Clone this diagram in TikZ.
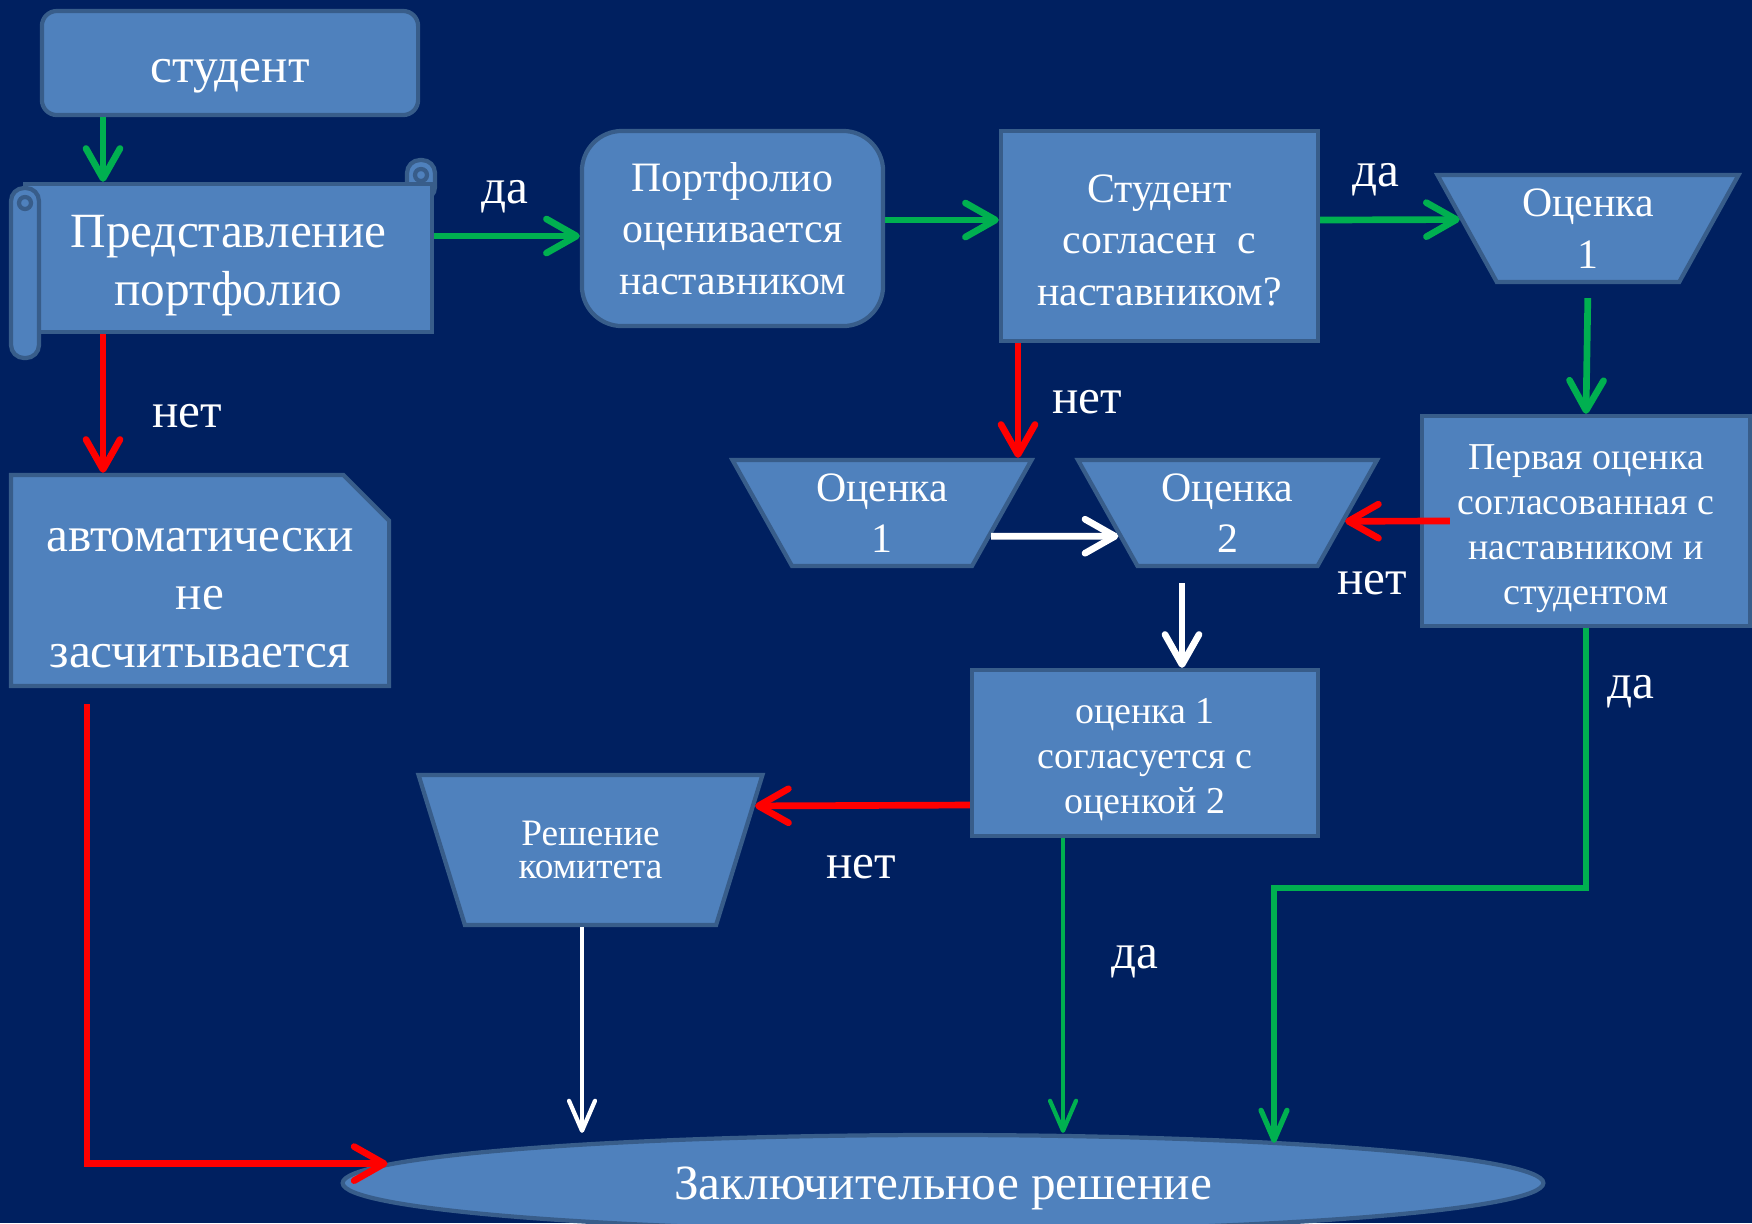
\documentclass[tikz,border=0pt]{standalone}
\usepackage{fontspec}
\setmainfont{Liberation Serif}
\usetikzlibrary{arrows.meta,shapes.geometric,shapes.misc}
\definecolor{bgblue}{HTML}{002060}
\definecolor{boxblue}{HTML}{4F81BD}
\definecolor{edgeblue}{HTML}{385D8A}
\definecolor{yesgreen}{HTML}{00B050}
\definecolor{nored}{HTML}{FF0000}
\begin{document}
\begin{tikzpicture}
        [x=0.01cm, y=-0.01cm,
        box/.style={draw=edgeblue, fill=boxblue, line width=1.2pt, text=white, align=center, inner sep=0pt},
        roundbox/.style={box, rectangle, rounded corners=#1},
        squarebox/.style={box, rectangle},
        tray/.style={box, trapezium, trapezium left angle=#1, trapezium right angle=#1, trapezium stretches=true},
        bigtext/.style={font=\fontsize{14}{16.5}\selectfont},
        midtext/.style={font=\fontsize{11.9}{14.6}\selectfont},
        smalltext/.style={font=\fontsize{10.8}{12.8}\selectfont},
        flow/.style={line width=1.9pt, -{Straight Barb[length=3mm,width=3.4mm,round]}},
        thinflow/.style={line width=1.2pt, -{Straight Barb[length=3mm,width=2.6mm,round]}},
        yes/.style={flow, yesgreen},
        no/.style={flow, nored},
        lab/.style={text=white, bigtext}]
        \useasboundingbox (0,0) rectangle (1752,1223);
        \fill[bgblue] (0,0) rectangle (1752,1223);
        \node[roundbox=0.15cm, minimum width=3.76cm, minimum height=1.04cm, bigtext] (stud) at (230,63) {\rule{0pt}{0.5cm}студент};
        \filldraw[draw=edgeblue, fill=boxblue, line width=1.2pt, rounded corners=0.13cm] (407,160) rectangle (435,200);
        \draw[edgeblue, line width=1.2pt] (421,175) circle[radius=0.06cm];
        \node[squarebox, minimum width=4.07cm, minimum height=1.48cm, bigtext] (pres) at (228.5,258) {\rule{0pt}{0.48cm}Представление\\портфолио};
        \filldraw[draw=edgeblue, fill=boxblue, line width=1.2pt, rounded corners=0.13cm] (11,188) rectangle (39,358);
        \draw[edgeblue, line width=1.2pt] (25,203) circle[radius=0.06cm];
        \node[roundbox=0.4cm, minimum width=3.01cm, minimum height=1.95cm, midtext] (port) at (732.5,228.5) {Портфолио\\оценивается\\наставником};
        \node[squarebox, minimum width=3.17cm, minimum height=2.1cm, midtext] (agree) at (1159.5,236) {\rule{0pt}{0.36cm}Студент\\согласен\ \ с\\наставником?};
        \node[tray=118.5, minimum width=3.02cm, minimum height=1.07cm, midtext] (top1) at (1588,228.5) {Оценка\\1};
        \node[squarebox, minimum width=3.28cm, minimum height=2.1cm, smalltext] (first) at (1586,521) {\rule{0pt}{0.4cm}Первая оценка\\согласованная с\\наставником и\\студентом};
        \node[tray=118.9, minimum width=3.0cm, minimum height=1.06cm, midtext] (mid1) at (882,513) {Оценка\\1};
        \node[tray=118.9, minimum width=3.0cm, minimum height=1.06cm, midtext] (mark2) at (1227.5,513) {Оценка\\2};
        \node[squarebox, minimum width=3.46cm, minimum height=1.66cm, smalltext] (check) at (1145,753) {\rule{0pt}{0.39cm}оценка 1\\согласуется с\\оценкой 2};
        \node[tray=114.4, minimum width=3.45cm, minimum height=1.5cm, font=\fontsize{10.6}{9.6}\selectfont] (comm) at (590.5,850) {Решение\\комитета};
        \node[box, chamfered rectangle, chamfered rectangle corners=north east, chamfered rectangle xsep=0.35cm, minimum width=3.78cm, minimum height=2.11cm, bigtext] (auto) at (200,580.5) {\rule{0pt}{0.59cm}автоматически\\не\\засчитывается};
        \node[box, ellipse, minimum width=12cm, minimum height=0.96cm, bigtext] (final) at (943,1183) {\rule{0pt}{0.44cm}Заключительное решение};
        \draw[yes] (stud.south -| 103,0) -- (pres.north -| 103,0);
        \draw[yes] (pres.east |- 0,236) -- (port.west |- 0,236);
        \draw[yes] (port.east |- 0,220) -- (agree.west |- 0,220);
        \draw[yes] (agree.east |- 0,220) -- (top1.176);
        \draw[yes, shorten <=1.4mm] (top1.south) -- (first.north);
        \draw[no] (pres.south -| 103,0) -- (auto.north -| 103,0);
        \draw[no] (agree.south -| 1018,0) -- (mid1.north -| 1018,0);
        \draw[flow, white] (mid1.-12) -- (mark2.192);
        \draw[no] ([xshift=3mm]first.west) -- (mark2.-4);
        \draw[flow, white, shorten <=1.5mm] (mark2.south -| 1182,0) -- (check.north -| 1182,0);
        \draw[no] (check.west |- 0,805) -- (comm.15.25);
        \draw[thinflow, yesgreen] (check.south -| 1063,0) -- (final.north -| 1063,0);
        \draw[thinflow, yesgreen, line width=1.5pt, shorten >=-1mm] (first.south) -- (first.south |- 0,888) -| (final.north -| 1274,0);
        \draw[thinflow, white] (comm.south -| 582,0) -- (final.north -| 582,0);
        \draw[no, shorten <=1.6mm] (auto.south -| 87,0) |- (final.178.3);
        \node[lab] (yes1) at (505,197) {да};
        \node[lab] (yes2) at (1376,180) {да};
        \node[lab] (no1) at (187,416) {нет};
        \node[lab] (no2) at (1087,402) {нет};
        \node[lab] (no3) at (1372,583) {нет};
        \node[lab] (no4) at (861,867) {нет};
        \node[lab] (yes3) at (1135,962) {да};
        \node[lab] (yes4) at (1631,692) {да};
\end{tikzpicture}
\end{document}
